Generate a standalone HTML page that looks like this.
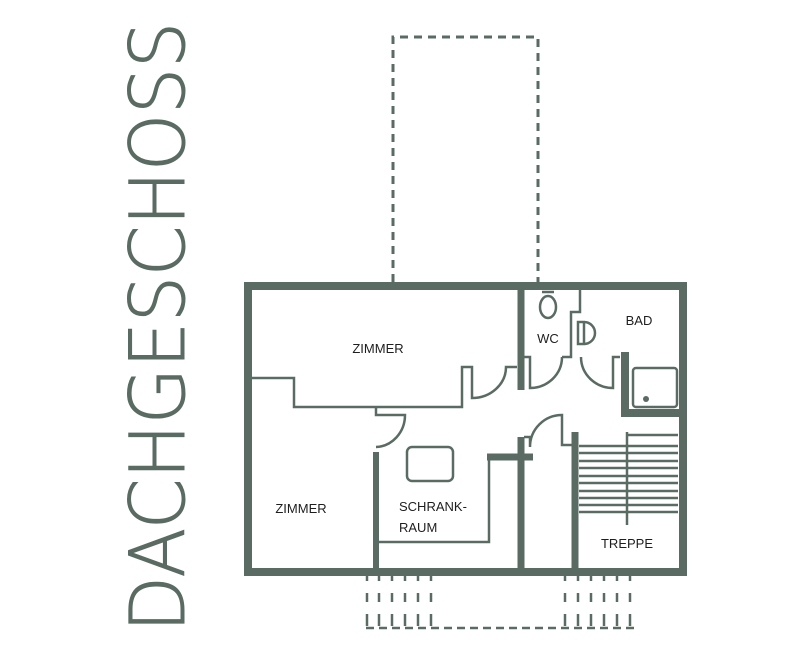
<!DOCTYPE html>
<html><head><meta charset="utf-8"><style>
html,body{margin:0;padding:0;background:#fff;}
svg{display:block;}
text{font-family:"Liberation Sans",sans-serif;fill:#1e1e1e;}
</style></head><body>
<svg width="793" height="660" viewBox="0 0 793 660" xmlns="http://www.w3.org/2000/svg">
<g fill="none" stroke="#5a6b63" stroke-linecap="butt">
<!-- title -->
<text transform="translate(184,632) rotate(-90)" font-size="76" textLength="610" lengthAdjust="spacingAndGlyphs" style="fill:#5a6b63;font-family:'DejaVu Sans',sans-serif;font-weight:200">DACHGESCHOSS</text>
<!-- top dashed -->
<path d="M393 282 V37 H538 V282" stroke-width="3" stroke-dasharray="8 6"/>
<!-- outer walls -->
<rect x="248" y="286" width="435" height="286" stroke-width="8"/>
<!-- thick interior walls -->
<path d="M521 290 V390" stroke-width="7"/>
<path d="M521 437 V568" stroke-width="7"/>
<path d="M487 457 H533" stroke-width="7"/>
<path d="M376 452 V568" stroke-width="6"/>
<path d="M575 432 V568" stroke-width="7"/>
<path d="M625 352 V413 H680" stroke-width="8"/>
<!-- thin walls -->
<g stroke-width="2.5">
<path d="M252 378 H294 V407 H462 V367 H472 V398 A34 31 0 0 0 506 367 H517"/>
<path d="M376 407 V415 H405 A30 32 0 0 1 376 447"/>
<path d="M489 457 V542 H379"/>
<path d="M580 290 V312 H571 V357 H562"/>
<path d="M524 357 H530 V388 A32 31 0 0 0 562 357"/>
<path d="M581 357 A32 31 0 0 0 613 388 V357 H620"/>
<path d="M524 437 H530 V447 A32 32 0 0 1 562 415 V445 H572"/>
<rect x="633" y="368" width="44" height="39" rx="3"/>
<rect x="407" y="447" width="46" height="34" rx="5"/>
<ellipse cx="548" cy="307" rx="8" ry="11"/>
<path d="M542 292 H554"/>
<path d="M578 322 H584 V344 H578 Z M584 322 A11 11 0 0 1 584 344"/>
<path d="M627 432 V525"/>
<path d="M627 435 H678"/>
<path d="M579 446 H678 M579 453 H678 M579 461 H678 M579 468 H678 M579 476 H678 M579 483 H678 M579 491 H678 M579 498 H678 M579 505 H678 M579 512 H678"/>
</g>
<circle cx="646" cy="399" r="3" fill="#5a6b63" stroke="none"/>
<!-- bottom dashed -->
<g stroke-width="2.5">
<path d="M367 576 V628 M379 576 V628 M392 576 V628 M405 576 V628 M418 576 V628 M431 576 V628 M565 576 V628 M578 576 V628 M591 576 V628 M604 576 V628 M617 576 V628 M630 576 V628" stroke-dasharray="5 12 9 12 12 10"/>
<path d="M366 628 H638" stroke-dasharray="8 5"/>
</g>
</g>
<g font-size="13">
<text x="378" y="353" text-anchor="middle">ZIMMER</text>
<text x="301" y="513" text-anchor="middle">ZIMMER</text>
<text x="399" y="511">SCHRANK-</text>
<text x="399" y="532">RAUM</text>
<text x="548" y="343" text-anchor="middle">WC</text>
<text x="639" y="325" text-anchor="middle">BAD</text>
<text x="627" y="548" text-anchor="middle">TREPPE</text>
</g>
</svg>
</body></html>
